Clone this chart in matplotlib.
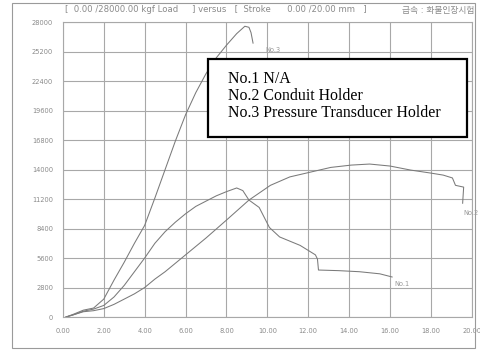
import numpy as np
import matplotlib.pyplot as plt
from matplotlib.patches import Rectangle

# stroke (mm) / load (kgf)
no1_x = [0.15, 0.5, 1.0, 1.5, 2.0, 2.5, 3.0, 3.5, 4.0, 4.5, 5.0, 5.5, 6.0, 6.5, 7.0, 7.5, 8.0, 8.5,
         8.8, 9.1, 9.6, 10.1, 10.6, 11.1, 11.6, 12.1, 12.35, 12.45, 12.5, 13.5, 14.5, 15.5, 16.1]
no1_y = [0, 200, 550, 750, 1100, 1900, 3000, 4300, 5600, 7000, 8100, 9000, 9800, 10500, 11000, 11500, 11900, 12250,
         12000, 11100, 10400, 8500, 7600, 7200, 6800, 6200, 5900, 5500, 4460, 4400, 4300, 4100, 3800]

no2_x = [0.15, 0.5, 1.0, 1.5, 2.0, 2.5, 3.0, 3.5, 4.0, 4.5, 5.0, 5.5, 6.0, 7.0, 8.0, 9.1, 10.15, 11.1,
         12.1, 13.1, 14.1, 15.0, 16.0, 17.0, 18.0, 18.6, 19.05, 19.2, 19.6, 19.55]
no2_y = [0, 200, 500, 600, 800, 1200, 1700, 2200, 2800, 3600, 4300, 5100, 5900, 7500, 9200, 11100, 12500, 13300,
         13750, 14200, 14420, 14520, 14330, 13950, 13660, 13470, 13200, 12500, 12330, 10800]

no3_x = [0.15, 0.5, 1.0, 1.5, 2.0, 2.5, 3.0, 3.5, 4.0, 4.5, 5.0, 5.5, 6.0, 6.5, 7.0, 7.5, 8.0, 8.5,
         8.9, 9.1, 9.2, 9.3]
no3_y = [0, 250, 650, 850, 1700, 3500, 5200, 7000, 8700, 11300, 14000, 16700, 19200, 21300, 23100, 24600, 25800, 26900,
         27600, 27500, 27000, 26000]

x_ticks = np.arange(0, 20.01, 2)
y_ticks = np.arange(0, 28001, 2800)

legend_lines = ['No.1 N/A', 'No.2 Conduit Holder', 'No.3 Pressure Transducer Holder']
header = '[  0.00 /28000.00 kgf Load     ] versus   [  Stroke      0.00 /20.00 mm   ]'
header_kr = '급속 : 화물인장시험'

plt.rcParams['font.family'] = ['DejaVu Sans', 'Noto Sans CJK KR']

fig = plt.figure(figsize=(4.8, 3.52), dpi=100)
ax = fig.add_axes([0.131, 0.0994, 0.852, 0.838])

line_col = '#7a7a7a'
grid_col = '#a8a8a8'
for xs, ys in [(no1_x, no1_y), (no2_x, no2_y), (no3_x, no3_y)]:
    ax.plot(xs, ys, color=line_col, lw=0.75)

ax.set_xlim(0, 20)
ax.set_ylim(0, 28000)
ax.set_xticks(x_ticks)
ax.set_yticks(y_ticks)
ax.set_xticklabels(['%.2f' % v for v in x_ticks])
ax.set_yticklabels(['%d' % v for v in y_ticks])
ax.tick_params(length=0, labelsize=4.8, labelcolor='#8a8a8a')
ax.tick_params(axis='y', pad=7)
ax.tick_params(axis='x', pad=8)
ax.grid(True, color=grid_col, lw=0.8)
for s in ax.spines.values():
    s.set_color(grid_col)
    s.set_linewidth(0.8)

# curve labels
ax.text(9.9, 25300, 'No.3', fontsize=4.8, color='#9a9a9a', va='center')
ax.text(19.6, 9900, 'No.2', fontsize=4.8, color='#9a9a9a', va='center')
ax.text(16.2, 3100, 'No.1', fontsize=4.8, color='#9a9a9a', va='center')

# legend box
fig.patches.append(Rectangle((208 / 480, 1 - 137 / 352), 259 / 480, 78 / 352, transform=fig.transFigure,
                             facecolor='white', edgecolor='black', lw=1.6, zorder=5))
for i, t in enumerate(legend_lines):
    fig.text(228 / 480, 1 - (79 + 17 * i) / 352, t, fontsize=11.4, family='Liberation Serif',
             va='center', ha='left', zorder=6)

# header and outer frame
fig.text(65 / 480, 1 - 10 / 352, header, fontsize=6.1, color='#8a8a8a', va='center')
fig.text(474 / 480, 1 - 10 / 352, header_kr, fontsize=6.3, color='#8a8a8a', va='center', ha='right')
fig.patches.append(Rectangle((12 / 480, 1 - 348 / 352), 463 / 480, 345 / 352, transform=fig.transFigure,
                             facecolor='none', edgecolor='#9a9a9a', lw=0.8))

fig.savefig('out.png', dpi=100)
